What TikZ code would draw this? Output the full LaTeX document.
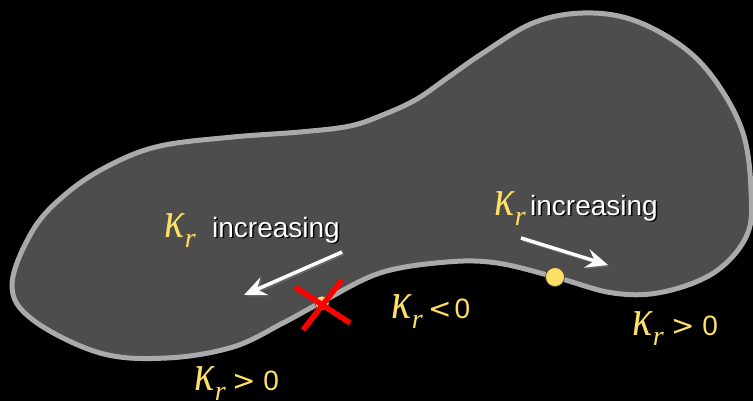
\documentclass[tikz,border=0pt]{standalone}
\usepackage{fontspec}
\setmainfont{Liberation Sans}
\newfontfamily\kapfont{Liberation Serif}
\newfontfamily\relfont{DejaVu Sans}
\usetikzlibrary{arrows.meta}
\definecolor{blobfill}{HTML}{4D4D4D}
\definecolor{blobline}{HTML}{AAAAAA}
\definecolor{kyellow}{HTML}{FFE066}
\newcommand{\kr}{{\color{kyellow}\kapfont\itshape\fontsize{40}{40}\selectfont\scalebox{1.05}[1.3]{κ}\kern0.5pt\raisebox{-0.25em}{\fontsize{28}{28}\selectfont r}}}
\tikzset{
  lbl/.style={inner sep=0pt, anchor=base west, font=\fontsize{28}{30}\selectfont},
  wtxt/.style={lbl, text=white},
  stxt/.style={lbl, text=black},
  ytxt/.style={lbl, text=kyellow},
  bigarrow/.style={draw=white, line width=3.5pt, -{Stealth[length=22pt,width=19pt,inset=8pt]}},
  ydot/.style={circle, fill=kyellow, draw=black!70, line width=0.8pt, inner sep=0pt},
  redx/.style={draw=red, line width=5.5pt}
}
\begin{document}
\begin{tikzpicture}[x=1pt,y=-1pt]
\fill[black] (0,0) rectangle (753,401);
\useasboundingbox (0,0) rectangle (753,401);
% blob
\draw[blobline, fill=blobfill, line width=5pt]
  plot[smooth cycle, tension=0.6] coordinates {
  (12,285) (33,230) (67,193) (110,165) (160,146) (233,137) (300,132) (350,126) (385,114)
  (417,99) (450,76) (483,53) (533,23) (583,13) (633,20) (683,47) (717,83) (743,133)
  (751,190) (747,235) (715,272) (663,292) (613,293) (555,277) (497,263) (447,262)
  (380,273) (320,303) (283,323) (233,347) (167,358) (100,353) (33,320)};
% dots
\node[ydot, minimum size=14pt] (d1) at (322,303) {};
\node[ydot, minimum size=19pt] (d2) at (555,277) {};
% red X
\coordinate (x1a) at (295,287); \coordinate (x1b) at (350,323);
\coordinate (x2a) at (342,280); \coordinate (x2b) at (303,330);
\draw[redx] (x1a) -- (x1b);
\draw[redx] (x2a) -- (x2b);
% arrows
\coordinate (a1s) at (342,252); \coordinate (a1e) at (244,295);
\coordinate (a2s) at (521,238); \coordinate (a2e) at (608,265);
\draw[bigarrow, draw=black!60] ([shift={(1.5,1.5)}]a1s) -- ([shift={(1.5,1.5)}]a1e);
\draw[bigarrow] (a1s) -- (a1e);
\draw[bigarrow, draw=black!60] ([shift={(1.5,1.5)}]a2s) -- ([shift={(1.5,1.5)}]a2e);
\draw[bigarrow] (a2s) -- (a2e);
% label 1
\node[lbl] (k1) at (164,237) {\kr};
\node[stxt] (t1s) at (213.5,238.5) {increasing};
\node[wtxt] (t1) at (212,237) {increasing};
% label 2
\node[lbl] (k2) at (494,215) {\kr};
\node[stxt] (t2s) at (531.5,216.5) {increasing};
\node[wtxt] (t2) at (530,215) {increasing};
% label 3
\node[lbl] (k3) at (194,390) {\kr};
\node[ytxt] (r3) at (232,390) {{\relfont >} 0};
% label 4
\node[lbl] (k4) at (391,318) {\kr};
\node[ytxt] (r4) at (428,318) {{\relfont <}\kern3pt0};
% label 5
\node[lbl] (k5) at (632,335) {\kr};
\node[ytxt] (r5) at (671,335) {{\relfont >} 0};
\end{tikzpicture}
\end{document}
